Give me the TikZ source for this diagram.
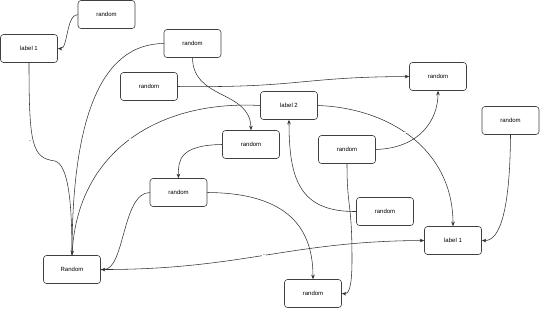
\documentclass[tikz,border=0pt]{standalone}
\usepackage{fontspec}
\setmainfont{Liberation Sans}
\usetikzlibrary{arrows.meta}

\tikzset{
  box/.style={draw=black!75, line width=0.6pt, rounded corners=3pt, fill=white,
    minimum width=57pt, minimum height=28pt, inner sep=0pt,
    font=\fontsize{6}{7}\selectfont},
  link/.style={draw=black!80, line width=0.55pt, -{Stealth[length=4.5pt,width=3.6pt]}},
  plain/.style={draw=black!80, line width=0.55pt},
  lbl/.style={fill=white, inner sep=0.5pt, font=\fontsize{5}{5}\selectfont}
}

\begin{document}
\begin{tikzpicture}[x=1pt, y=-1pt]

  \useasboundingbox (0,0) rectangle (540,309);

  % Boxes
  \node[box] (Rtop) at (106.5,14.5)  {random};
  \node[box] (La)   at (29,48.5)     {label 1};
  \node[box] (Ra)   at (192.5,43.5)  {random};
  \node[box] (Rb)   at (149,86.5)    {random};
  \node[box] (Rc)   at (438,76.5)    {random};
  \node[box] (Lb)   at (289,105.5)   {label 2};
  \node[box] (Rd)   at (251,144.5)   {random};
  \node[box] (Re)   at (347,149.5)   {random};
  \node[box] (Rf)   at (510.5,120.5) {random};
  \node[box] (Rg)   at (178.5,192.5) {random};
  \node[box] (Rh)   at (385,211.5)   {random};
  \node[box] (Lc)   at (453,240.5)   {label 1};
  \node[box] (Rnd)  at (72,269.5)    {Random};
  \node[box] (Rbot) at (313,293.5)   {random};

  % Into Random
  \draw[plain] (La.south) .. controls (29,145) and (32,158) .. node[lbl, pos=0.5, left=1pt] {..} (55,161)
    .. controls (68,165) and (72,200) .. (Rnd.north);
  \draw[plain] (Ra.west) .. controls (100,44) and (72,120) .. (Rnd.north);
  \draw[link] (Lb.west) .. controls (160,100) and (78,150) .. node[lbl] {..} (Rnd.north);
  \draw[link] (Rg.west) .. controls (122,193) and (125,270) .. (Rnd.east);

  % Other links
  \draw[link] (Rtop.west) .. controls (66,15) and (68,49) .. (La.east);
  \draw[link] (Rb.east) .. controls (300,88) and (300,77) .. (Rc.west);
  \draw[link] (Ra.south) .. controls (193,100) and (250,90) .. (Rd.north);
  \draw[link] (Lb.east) .. controls (390,108) and (453,150) .. node[lbl, pos=0.45] {..} (Lc.north);
  \draw[link] (Rd.west) .. controls (180,145) and (178,160) .. (Rg.north);
  \draw[link] (Re.east) .. controls (420,148) and (438,120) .. (Rc.south);
  \draw[link] (Re.south) .. controls (347,210) and (352,200) .. (352,260)
    .. controls (352,290) and (348,294) .. (Rbot.east);
  \draw[link] (Rh.west) .. controls (300,212) and (289,180) .. (Lb.south);
  \draw[link] (Rf.south) .. controls (510,210) and (500,241) .. (Lc.east);
  \draw[link] (Rg.east) .. controls (290,193) and (313,230) .. (Rbot.north);
  \draw[link] (Rnd.east) .. controls (240,270) and (290,241) .. node[lbl] {..} (Lc.west);

\end{tikzpicture}
\end{document}
